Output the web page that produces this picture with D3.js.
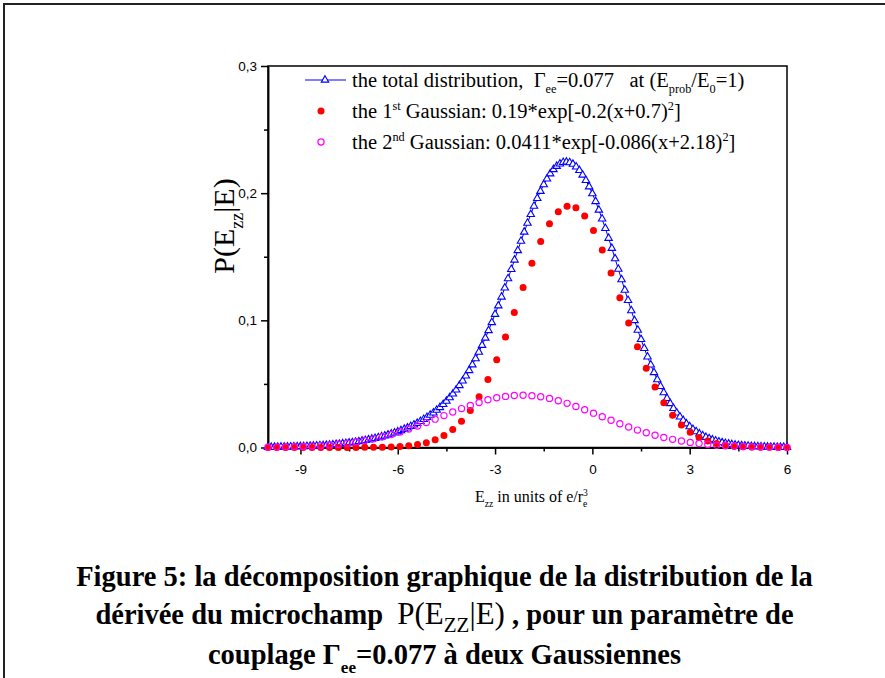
<!DOCTYPE html>
<html lang="fr">
<head>
<meta charset="UTF-8">
<title>P(Ezz|E) - decomposition</title>
<script src="https://d3js.org/d3.v7.min.js"></script>
<style>
  body { margin: 0; background: #fff; }
  svg { display: block; }
  .axis text { font-family: "Liberation Sans", Arial, sans-serif; font-size: 13.5px; fill: #000; }
  .axis path, .axis line { stroke: #000; stroke-width: 1.5; }
  .serif { font-family: "Liberation Serif", "Times New Roman", serif; fill: #000; white-space: pre; }
</style>
</head>
<body>
<svg id="chart" width="885" height="678"></svg>
<script>
// total distribution (triangles + line), step 0.1
const totalX = [-10,-9.9,-9.8,-9.7,-9.6,-9.5,-9.4,-9.3,-9.2,-9.1,-9,-8.9,-8.8,-8.7,-8.6,-8.5,-8.4,-8.3,-8.2,-8.1,
  -8,-7.9,-7.8,-7.7,-7.6,-7.5,-7.4,-7.3,-7.2,-7.1,-7,-6.9,-6.8,-6.7,-6.6,-6.5,-6.4,-6.3,-6.2,-6.1,
  -6,-5.9,-5.8,-5.7,-5.6,-5.5,-5.4,-5.3,-5.2,-5.1,-5,-4.9,-4.8,-4.7,-4.6,-4.5,-4.4,-4.3,-4.2,-4.1,
  -4,-3.9,-3.8,-3.7,-3.6,-3.5,-3.4,-3.3,-3.2,-3.1,-3,-2.9,-2.8,-2.7,-2.6,-2.5,-2.4,-2.3,-2.2,-2.1,
  -2,-1.9,-1.8,-1.7,-1.6,-1.5,-1.4,-1.3,-1.2,-1.1,-1,-0.9,-0.8,-0.7,-0.6,-0.5,-0.4,-0.3,-0.2,-0.1,
  0,0.1,0.2,0.3,0.4,0.5,0.6,0.7,0.8,0.9,1,1.1,1.2,1.3,1.4,1.5,1.6,1.7,1.8,1.9,
  2,2.1,2.2,2.3,2.4,2.5,2.6,2.7,2.8,2.9,3,3.1,3.2,3.3,3.4,3.5,3.6,3.7,3.8,3.9,
  4,4.1,4.2,4.3,4.4,4.5,4.6,4.7,4.8,4.9,5,5.1,5.2,5.3,5.4,5.5,5.6,5.7,5.8,5.9,6];
const totalY = [0.0002,0.0002,0.0003,0.0003,0.0004,0.0004,0.0005,0.0005,0.0006,0.0007,0.0008,0.0008,0.0009,0.0011,0.0012,0.0013,0.0015,0.0016,0.0018,0.0020,
  0.0022,0.0025,0.0027,0.0030,0.0033,0.0036,0.0039,0.0043,0.0047,0.0052,0.0056,0.0061,0.0067,0.0072,0.0078,0.0085,0.0092,0.0099,0.0107,0.0115,
  0.0124,0.0134,0.0144,0.0154,0.0166,0.0178,0.0191,0.0206,0.0221,0.0237,0.0255,0.0273,0.0294,0.0315,0.0339,0.0365,0.0392,0.0422,0.0453,0.0488,
  0.0524,0.0564,0.0606,0.0651,0.0699,0.0750,0.0804,0.0861,0.0920,0.0983,0.1048,0.1115,0.1184,0.1255,0.1328,0.1401,0.1475,0.1549,0.1623,0.1695,
  0.1765,0.1833,0.1898,0.1959,0.2015,0.2067,0.2113,0.2153,0.2186,0.2212,0.2231,0.2242,0.2245,0.2240,0.2228,0.2207,0.2179,0.2143,0.2101,0.2051,
  0.1996,0.1935,0.1868,0.1798,0.1723,0.1646,0.1567,0.1485,0.1403,0.1320,0.1238,0.1157,0.1077,0.0999,0.0923,0.0850,0.0780,0.0713,0.0650,0.0590,
  0.0534,0.0481,0.0432,0.0387,0.0346,0.0308,0.0273,0.0241,0.0213,0.0187,0.0164,0.0143,0.0125,0.0108,0.0094,0.0081,0.0070,0.0061,0.0052,0.0045,
  0.0038,0.0033,0.0028,0.0024,0.0020,0.0017,0.0015,0.0013,0.0011,0.0009,0.0008,0.0007,0.0006,0.0005,0.0004,0.0003,0.0003,0.0002,0.0002,0.0002,0.0001];

// the two gaussians share the same x positions
const gaussX = [-10,-9.729,-9.458,-9.186,-8.915,-8.644,-8.373,-8.102,-7.831,-7.559,
  -7.288,-7.017,-6.746,-6.475,-6.203,-5.932,-5.661,-5.39,-5.119,-4.847,
  -4.576,-4.305,-4.034,-3.763,-3.492,-3.22,-2.949,-2.678,-2.407,-2.136,
  -1.864,-1.593,-1.322,-1.051,-0.78,-0.508,-0.237,0.034,0.305,0.576,
  0.847,1.119,1.39,1.661,1.932,2.203,2.475,2.746,3.017,3.288,
  3.559,3.831,4.102,4.373,4.644,4.915,5.186,5.458,5.729,6];
const gauss1Y = [0,0,0,0,0,0,0,0,0,0,
  0,0.0001,0.0001,0.0002,0.0004,0.0008,0.0014,0.0023,0.0038,0.0061,
  0.0094,0.0141,0.0206,0.0291,0.0400,0.0534,0.0691,0.0869,0.1061,0.1258,
  0.1449,0.1620,0.1759,0.1854,0.1898,0.1886,0.1820,0.1706,0.1553,0.1372,
  0.1177,0.0980,0.0793,0.0623,0.0475,0.0352,0.0253,0.0177,0.0120,0.0079,
  0.0051,0.0031,0.0019,0.0011,0.0006,0.0004,0.0002,0.0001,0,0];
const gauss2Y = [0.0002,0.0003,0.0004,0.0006,0.0008,0.0011,0.0015,0.0020,0.0026,0.0034,
  0.0044,0.0055,0.0068,0.0084,0.0102,0.0122,0.0145,0.0169,0.0196,0.0223,
  0.0251,0.0279,0.0306,0.0331,0.0354,0.0375,0.0391,0.0402,0.0409,0.0411,
  0.0407,0.0399,0.0386,0.0368,0.0347,0.0323,0.0297,0.0270,0.0242,0.0214,
  0.0187,0.0161,0.0137,0.0116,0.0096,0.0079,0.0064,0.0051,0.0040,0.0031,
  0.0024,0.0018,0.0014,0.0010,0.0008,0.0005,0.0004,0.0003,0.0002,0.0001];

const xTicks = [-9, -6, -3, 0, 3, 6];
const xMinor = [-7.5, -4.5, -1.5, 1.5, 4.5];
const yTicks = [0, 0.1, 0.2, 0.3];
const yMinor = [0.05, 0.15, 0.25];

const svg = d3.select("#chart");

// page frame (left + top edge of the scanned figure box)
svg.append("path")
  .attr("d", "M4,678V4H885")
  .attr("fill", "none").attr("stroke", "#222").attr("stroke-width", 2);

const x = d3.scaleLinear().domain([-10, 6]).range([268, 787]);
const y = d3.scaleLinear().domain([0, 0.3]).range([447.5, 66]);

// axes
svg.append("g").attr("class", "axis")
  .attr("transform", "translate(0,447.5)")
  .call(d3.axisBottom(x).tickValues(xTicks).tickSize(7).tickSizeOuter(0).tickPadding(10)
    .tickFormat(d => String(d)));
svg.append("g").attr("class", "axis")
  .attr("transform", "translate(0,447.5)")
  .call(d3.axisBottom(x).tickValues(xMinor).tickSize(4).tickSizeOuter(0).tickFormat(""));
svg.append("g").attr("class", "axis")
  .attr("transform", "translate(268,0)")
  .call(d3.axisLeft(y).tickValues(yTicks).tickSize(7).tickSizeOuter(0).tickPadding(4)
    .tickFormat(d => d.toFixed(1).replace(".", ",")));
svg.append("g").attr("class", "axis")
  .attr("transform", "translate(268,0)")
  .call(d3.axisLeft(y).tickValues(yMinor).tickSize(4).tickSizeOuter(0).tickFormat(""));

// plot box
svg.append("rect")
  .attr("x", x(-10)).attr("y", y(0.3))
  .attr("width", x(6) - x(-10)).attr("height", y(0) - y(0.3))
  .attr("fill", "none").attr("stroke", "#000").attr("stroke-width", 1.5);

// total distribution
const totalData = totalX.map((d, i) => [d, totalY[i]]);
svg.append("path")
  .datum(totalData)
  .attr("fill", "none").attr("stroke", "#0000ff").attr("stroke-width", 1)
  .attr("d", d3.line().x(d => x(d[0])).y(d => y(d[1])));

const tri = d3.symbol(d3.symbolTriangle, 24);
svg.append("g").selectAll("path")
  .data(totalData)
  .join("path")
  .attr("d", tri)
  .attr("transform", d => `translate(${x(d[0])},${y(d[1])})`)
  .attr("fill", "#fff").attr("stroke", "#0000ff").attr("stroke-width", 1.1);

// 1st gaussian
svg.append("g").selectAll("circle")
  .data(gaussX.map((d, i) => [d, gauss1Y[i]]))
  .join("circle")
  .attr("cx", d => x(d[0])).attr("cy", d => y(d[1])).attr("r", 3.5)
  .attr("fill", "#ff0000");

// 2nd gaussian
svg.append("g").selectAll("circle")
  .data(gaussX.map((d, i) => [d, gauss2Y[i]]))
  .join("circle")
  .attr("cx", d => x(d[0])).attr("cy", d => y(d[1])).attr("r", 3.1)
  .attr("fill", "none").attr("stroke", "#ff00ff").attr("stroke-width", 1.2);

// legend
const lg = svg.append("g");
lg.append("line").attr("x1", 305).attr("x2", 346).attr("y1", 80).attr("y2", 80)
  .attr("stroke", "#0000ff").attr("stroke-width", 1);
lg.append("path").attr("d", tri).attr("transform", "translate(325,80)")
  .attr("fill", "#fff").attr("stroke", "#0000ff").attr("stroke-width", 1.1);
lg.append("circle").attr("cx", 321).attr("cy", 111).attr("r", 3.5).attr("fill", "#ff0000");
lg.append("circle").attr("cx", 321).attr("cy", 142).attr("r", 3.1)
  .attr("fill", "none").attr("stroke", "#ff00ff").attr("stroke-width", 1.2);

// text with sub/superscript pieces
function rich(g, xPos, yPos, parts, size) {
  const t = g.append("text").attr("class", "serif")
    .attr("x", xPos).attr("y", yPos).style("font-size", size + "px");
  let shift = 0;
  parts.forEach(p => {
    const s = t.append("tspan").text(p.t);
    const fs = p.fs || size;
    const target = p.sub ? fs * 0.3 : p.sup ? -fs * 0.4 : 0;
    s.attr("dy", target - shift);
    shift = target;
    if (p.sub || p.sup) s.style("font-size", (fs * (p.k || 0.6)) + "px");
    else if (p.fs) s.style("font-size", p.fs + "px");
    if (p.w) s.style("font-weight", p.w);
    if (p.dx) s.attr("dx", p.dx);
  });
  return t;
}

rich(lg, 352, 87, [
  { t: "the total distribution,  \u0393" }, { t: "ee", sub: 1 }, { t: "=0.077   at (E" },
  { t: "prob", sub: 1 }, { t: "/E" }, { t: "0", sub: 1 }, { t: "=1)" }], 20.5);
rich(lg, 352, 118, [
  { t: "the 1" }, { t: "st", sup: 1 }, { t: " Gaussian: 0.19*exp[-0.2(x+0.7)" },
  { t: "2", sup: 1 }, { t: "]" }], 20.5);
rich(lg, 352, 149, [
  { t: "the 2" }, { t: "nd", sup: 1 }, { t: " Gaussian: 0.0411*exp[-0.086(x+2.18)" },
  { t: "2", sup: 1 }, { t: "]" }], 20.5);

// axis titles
rich(svg, 0, 0, [{ t: "P(E" }, { t: "zz", sub: 1 }, { t: "|E)" }], 30)
  .attr("text-anchor", "middle")
  .attr("transform", "translate(234,226) rotate(-90)");

rich(svg, 475, 502, [{ t: "E" }, { t: "zz", sub: 1 }, { t: " in units of e/r" },
  { t: "3", sup: 1 }, { t: "e", sub: 1, dx: -5 }], 16);

// caption
const cap = svg.append("g");
rich(cap, 444.5, 586, [{ t: "Figure 5: la d\u00e9composition graphique de la distribution de la" }], 28.5)
  .attr("text-anchor", "middle").style("font-weight", "bold");
rich(cap, 444.5, 624, [{ t: "d\u00e9riv\u00e9e du microchamp  ", w: "bold" }, { t: "P(E", fs: 31 },
  { t: "ZZ", sub: 1, fs: 28, k: 0.75 }, { t: "|E)", fs: 31 }, { t: " , pour un param\u00e8tre de", w: "bold" }], 28.5)
  .attr("text-anchor", "middle");
rich(cap, 444.5, 664, [{ t: "couplage \u0393", w: "bold" }, { t: "ee", sub: 1, w: "bold" },
  { t: "=0.077 \u00e0 deux Gaussiennes", w: "bold" }], 28.5)
  .attr("text-anchor", "middle");
</script>
</body>
</html>
